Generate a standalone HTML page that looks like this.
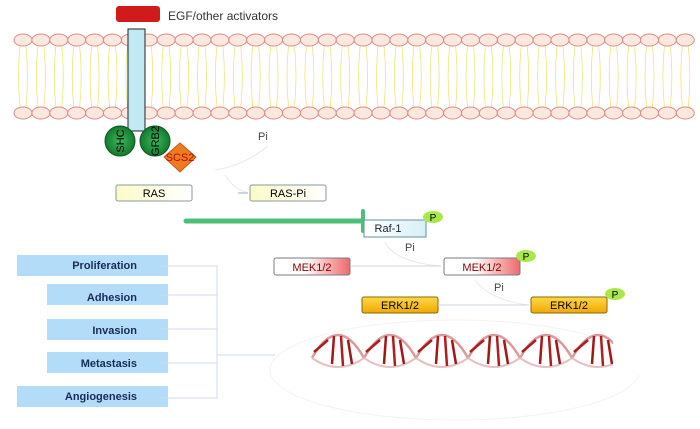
<!DOCTYPE html>
<html><head><meta charset="utf-8"><style>
html,body{margin:0;padding:0;background:#fff;width:700px;height:429px;overflow:hidden}
text{font-family:"Liberation Sans",sans-serif}
</style></head><body>
<svg id="s" width="700" height="429" viewBox="0 0 700 429" xmlns="http://www.w3.org/2000/svg">
<defs>
<linearGradient id="mek" x1="0" x2="1"><stop offset="0.4" stop-color="#fff"/><stop offset="1" stop-color="#ee6a6a"/></linearGradient>
<linearGradient id="erk" x1="0" x2="0" y1="0" y2="1"><stop offset="0" stop-color="#ffd84a"/><stop offset="1" stop-color="#f0a800"/></linearGradient>
<linearGradient id="ras" x1="0" x2="1"><stop offset="0" stop-color="#fbfbc8"/><stop offset="1" stop-color="#fff"/></linearGradient>
<linearGradient id="raf" x1="0" x2="1"><stop offset="0" stop-color="#fff"/><stop offset="1" stop-color="#d6f0f6"/></linearGradient>
<radialGradient id="grn"><stop offset="0" stop-color="#3cb85a"/><stop offset="1" stop-color="#127a2e"/></radialGradient>
</defs>
<g id="mem"></g>
<rect x="116" y="6" width="44" height="16" rx="3" fill="#d11b1b"/>
<rect id="rec" x="128" y="29" width="17" height="102" fill="#bfeaf3" stroke="#222" stroke-width="1"/>
<text x="168" y="20" font-size="12" fill="#333">EGF/other activators</text>
<circle cx="120" cy="141" r="15" fill="url(#grn)" stroke="#0d5a20"/>
<text transform="translate(124,141) rotate(-90)" font-size="11" fill="#000" text-anchor="middle">SHC</text>
<circle cx="155" cy="141" r="15" fill="url(#grn)" stroke="#0d5a20"/>
<text transform="translate(159,141) rotate(-90)" font-size="11" fill="#000" text-anchor="middle">GRB2</text>
<polygon points="180,143 196,157 180,172 164,157" fill="#f07a1e" stroke="#c55a10"/>
<text x="180" y="161" font-size="11" fill="#b01010" text-anchor="middle">SCS2</text>
<text x="258" y="140" font-size="11" fill="#444">Pi</text>
<path d="M268 146 Q245 165 215 170 M225 175 Q235 190 246 192" fill="none" stroke="#e4e8ee" stroke-width="1"/>
<rect x="116" y="185" width="76" height="16" rx="2" fill="url(#ras)" stroke="#8a9a9a"/>
<text x="154" y="197" font-size="11" text-anchor="middle">RAS</text>
<line x1="238" y1="193" x2="248" y2="193" stroke="#9ab"/>
<rect x="250" y="185" width="76" height="16" rx="2" fill="url(#ras)" stroke="#8a9a9a"/>
<text x="288" y="197" font-size="11" text-anchor="middle">RAS-Pi</text>
<line x1="186" y1="221" x2="363" y2="221" stroke="#4cc07a" stroke-width="5" stroke-linecap="round"/>
<line x1="363" y1="211" x2="363" y2="231" stroke="#4cc07a" stroke-width="4" stroke-linecap="round"/>
<path d="M364 220 L364 237 L426 237 L426 220 L420 220" fill="url(#raf)" stroke="#6a8fa0"/>
<line x1="364" y1="220" x2="420" y2="220" stroke="#6a8fa0"/>
<text x="388" y="232" font-size="11" text-anchor="middle" fill="#223">Raf-1</text>
<ellipse cx="433" cy="217" rx="10" ry="6" fill="#a8e84a"/>
<text x="433" y="221" font-size="10" text-anchor="middle">P</text>
<text x="405" y="251" font-size="11" fill="#444">Pi</text>
<path d="M385 242 Q395 262 440 266" fill="none" stroke="#e4e8ee"/>
<rect x="274" y="258" width="76" height="17" rx="2" fill="url(#mek)" stroke="#7a7a8a"/>
<text x="312" y="271" font-size="11" text-anchor="middle" fill="#8a0000">MEK1/2</text>
<line x1="350" y1="266" x2="441" y2="266" stroke="#cdd6e0"/>
<rect x="444" y="258" width="76" height="17" rx="2" fill="url(#mek)" stroke="#7a7a8a"/>
<text x="482" y="271" font-size="11" text-anchor="middle" fill="#8a0000">MEK1/2</text>
<ellipse cx="526" cy="256" rx="10" ry="6" fill="#a8e84a"/>
<text x="526" y="260" font-size="10" text-anchor="middle">P</text>
<text x="494" y="291" font-size="11" fill="#444">Pi</text>
<path d="M475 280 Q490 300 528 305" fill="none" stroke="#e4e8ee"/>
<rect x="362" y="297" width="76" height="16" rx="2" fill="url(#erk)" stroke="#8a6a00"/>
<text x="400" y="309" font-size="11" text-anchor="middle">ERK1/2</text>
<line x1="438" y1="305" x2="529" y2="305" stroke="#cdd6e0"/>
<rect x="531" y="297" width="76" height="16" rx="2" fill="url(#erk)" stroke="#8a6a00"/>
<text x="569" y="309" font-size="11" text-anchor="middle">ERK1/2</text>
<ellipse cx="615" cy="294" rx="10" ry="6" fill="#a8e84a"/>
<text x="615" y="298" font-size="10" text-anchor="middle">P</text>
<ellipse cx="455" cy="370" rx="185" ry="50" fill="none" stroke="#f3f3f3"/>
<g id="dna"></g>
<g font-size="11" font-weight="bold" fill="#1a2a5a" text-anchor="end">
<rect x="17" y="255" width="151" height="21" fill="#b2dcf8"/><text x="137" y="269">Proliferation</text>
<rect x="47" y="284" width="121" height="21" fill="#b2dcf8"/><text x="137" y="301">Adhesion</text>
<rect x="47" y="319" width="121" height="21" fill="#b2dcf8"/><text x="137" y="334">Invasion</text>
<rect x="47" y="352" width="121" height="21" fill="#b2dcf8"/><text x="137" y="367">Metastasis</text>
<rect x="17" y="386" width="151" height="21" fill="#b2dcf8"/><text x="137" y="400">Angiogenesis</text>
</g>
<g stroke="#cfdbe8" fill="none">
<line x1="217" y1="266" x2="217" y2="398"/>
<line x1="160" y1="266" x2="217" y2="266"/>
<line x1="160" y1="295" x2="217" y2="295"/>
<line x1="160" y1="329" x2="217" y2="329"/>
<line x1="160" y1="363" x2="217" y2="363"/>
<line x1="160" y1="398" x2="217" y2="398"/>
<line x1="217" y1="355" x2="275" y2="355"/>
</g>
</svg>
<script>
var ns="http://www.w3.org/2000/svg",m=document.getElementById("mem"),h="";
for(var x=23;x<690;x+=17.9){
 h+='<path d="M'+(x-3)+' 46 Q'+(x-6)+' 76 '+(x-3)+' 107 M'+(x+3)+' 46 Q'+(x+6)+' 76 '+(x+3)+' 107" stroke="#f2e27a" fill="none" stroke-width="0.8"/>';
}
for(var x=23;x<690;x+=17.9){
 h+='<ellipse cx="'+x+'" cy="40" rx="9" ry="6" fill="#fde8e0" stroke="#e08a80"/>';
 h+='<ellipse cx="'+x+'" cy="113" rx="9" ry="6" fill="#fde8e0" stroke="#e08a80"/>';
}
m.innerHTML=h;
var rec=document.getElementById("rec");rec.parentNode.insertBefore(rec,m.nextSibling);
var d="",x0=312,P=52;
for(var i=0;i<6;i++){
 var a=x0+i*P;
 d+='<path d="M'+a+' 358 Q'+(a+26)+' 312 '+(a+P)+' 358" fill="none" stroke="#d99a9a" stroke-width="2.5"/>';
 d+='<path d="M'+a+' 358 Q'+(a+26)+' 376 '+(a+P)+' 358" fill="none" stroke="#e6c0c0" stroke-width="2"/>';
 d+='<line x1="'+(a+2)+'" y1="352" x2="'+(a+16)+'" y2="340" stroke="#b01c1c" stroke-width="2.5"/>';
 d+='<line x1="'+(a+22)+'" y1="336" x2="'+(a+20)+'" y2="364" stroke="#a01818" stroke-width="2.5"/>';
 d+='<line x1="'+(a+29)+'" y1="336" x2="'+(a+31)+'" y2="366" stroke="#b01c1c" stroke-width="2.5"/>';
 d+='<line x1="'+(a+36)+'" y1="340" x2="'+(a+40)+'" y2="364" stroke="#a01818" stroke-width="2.5"/>';
}
var dg=document.getElementById("dna");dg.innerHTML=d;
var c=document.createElementNS(ns,"rect");c.setAttribute("x","613");c.setAttribute("y","325");c.setAttribute("width","40");c.setAttribute("height","50");c.setAttribute("fill","#fff");dg.appendChild(c);
</script>
</body></html>
